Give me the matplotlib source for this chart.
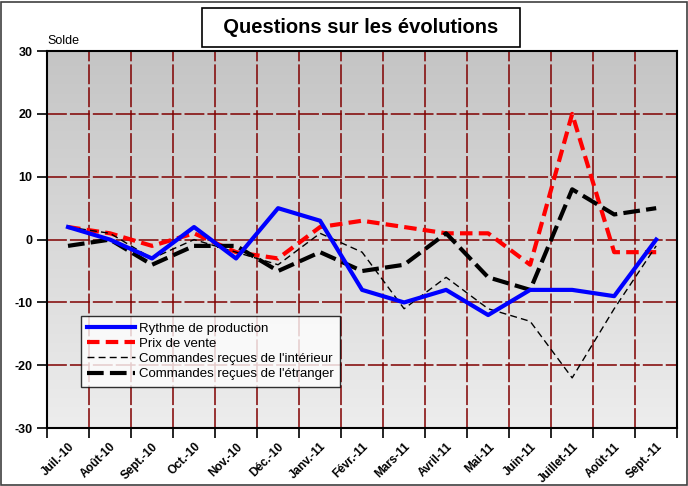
import matplotlib
matplotlib.use('Agg')
import matplotlib.pyplot as plt
import numpy as np
from matplotlib.patches import Rectangle

plt.rcParams['font.family'] = ['Liberation Sans', 'DejaVu Sans']

# Data
months = ['Juil.-10', 'Août-10', 'Sept.-10', 'Oct.-10', 'Nov.-10', 'Déc.-10', 'Janv.-11',
          'Févr.-11', 'Mars-11', 'Avril-11', 'Mai-11', 'Juin-11', 'Juillet-11', 'Août-11', 'Sept.-11']
rythme = [2, 0, -3, 2, -3, 5, 3, -8, -10, -8, -12, -8, -8, -9, 0]
prix = [2, 1, -1, 1, -2, -3, 2, 3, 2, 1, 1, -4, 20, -2, -2]
cmd_int = [2, 1, -3, 0, -2, -4, 1, -2, -11, -6, -11, -13, -22, -11, -1]
cmd_etr = [-1, 0, -4, -1, -1, -5, -2, -5, -4, 1, -6, -8, 8, 4, 5]
yticks = [-30, -20, -10, 0, 10, 20, 30]

x = np.arange(len(months))

fig = plt.figure(figsize=(6.88, 4.86), dpi=100)
ax = fig.add_axes([0.0683, 0.119, 0.916, 0.776])

# Gradient background (grey at top, light at bottom)
t = np.linspace(0, 1, 256)
top, bottom = np.array([0.77, 0.77, 0.77]), np.array([0.93, 0.93, 0.93])
grad = (top[None, :] * (1 - t[:, None]) + bottom[None, :] * t[:, None]).reshape(-1, 1, 3)
ax.imshow(grad, extent=[-0.5, 14.5, -30, 30], aspect='auto', origin='upper', zorder=0)

ax.set_xlim(-0.5, 14.5)
ax.set_ylim(-30, 30)

# Grid
grid_style = dict(color='#800000', lw=1.1, ls=(0, (13, 2)), zorder=1)
for b in np.arange(0.5, 14.5, 1):
    ax.axvline(b, **grid_style)
for yv in yticks[1:-1]:
    ax.axhline(yv, **grid_style)

# Series
ax.plot(x, prix, color='red', lw=3, ls=(0, (3, 1.5)), label='Prix de vente', zorder=3)
ax.plot(x, cmd_int, color='black', lw=1, ls=(0, (5, 3)), label="Commandes reçues de l'intérieur", zorder=3)
ax.plot(x, cmd_etr, color='black', lw=3, ls=(0, (4, 1.5)), label="Commandes reçues de l'étranger", zorder=3)
ax.plot(x, rythme, color='blue', lw=3, label='Rythme de production', zorder=4)

# Axes ticks
ax.set_yticks(yticks)
ax.set_yticklabels([str(v) for v in yticks], fontsize=9, fontweight='bold')
ax.tick_params(axis='y', direction='out', length=7, width=1.2)

ax.set_xticks(np.arange(-0.5, 15, 1))
ax.set_xticklabels([])
ax.tick_params(axis='x', which='major', direction='out', length=7, width=1.2)
ax.set_xticks(x, minor=True)
ax.set_xticklabels(months, minor=True, rotation=45, ha='right', rotation_mode='anchor',
                   fontsize=8.5, fontweight='bold')
ax.tick_params(axis='x', which='minor', length=0, pad=9)

for s in ax.spines.values():
    s.set_linewidth(1.5)
    s.set_color('black')

ax.text(0.0, 1.012, 'Solde', transform=ax.transAxes, fontsize=9, ha='left', va='bottom')

# Legend
h, l = ax.get_legend_handles_labels()
order = [3, 0, 1, 2]
leg = ax.legend([h[i] for i in order], [l[i] for i in order], loc='upper left',
                bbox_to_anchor=(0.043, 0.315), fontsize=9.5, frameon=True, fancybox=False,
                handlelength=3.6, handletextpad=0.3, borderpad=0.5, labelspacing=0.22)
leg.get_frame().set_edgecolor('black')
leg.get_frame().set_linewidth(1)
leg.set_zorder(10)

# Title box
fig.text(0.525, 0.944, '  Questions sur les évolutions  ', ha='center', va='center',
         fontsize=14.5, fontweight='bold',
         bbox=dict(boxstyle='square,pad=0.5', fc='white', ec='black', lw=1.2))

# Outer border
fig.patches.append(Rectangle((0.002, 0.002), 0.996, 0.994, transform=fig.transFigure,
                             fill=False, ec='#404040', lw=1.2))

fig.savefig('out.png', dpi=100)
